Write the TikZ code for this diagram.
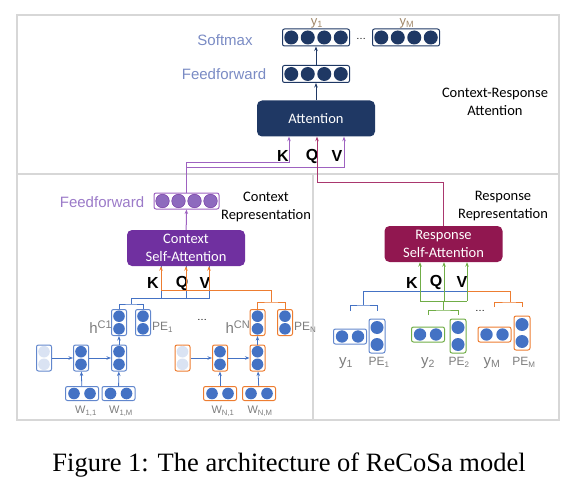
\documentclass[tikz,border=0pt]{standalone}
\usepackage{fontspec}
\setmainfont{Liberation Sans}
\newfontfamily\boxfont{Carlito}
\newfontfamily\capfont{Liberation Serif}
\usepackage{tikz}
\usetikzlibrary{arrows.meta}

\definecolor{navy}{RGB}{31,56,100}
\definecolor{skyb}{RGB}{122,139,196}
\definecolor{ytop}{RGB}{160,135,105}
\definecolor{purpbox}{RGB}{112,48,160}
\definecolor{purpc}{RGB}{142,106,190}
\definecolor{purpl}{RGB}{158,98,192}
\definecolor{purplab}{RGB}{155,122,200}
\definecolor{maroon}{RGB}{145,23,80}
\definecolor{maroonl}{RGB}{170,55,110}
\definecolor{bluec}{RGB}{68,114,196}
\definecolor{blueb}{RGB}{98,135,205}
\definecolor{orng}{RGB}{237,125,49}
\definecolor{grn}{RGB}{112,173,71}
\definecolor{pale}{RGB}{218,227,243}
\definecolor{labgray}{RGB}{125,125,125}
\definecolor{framec}{RGB}{215,215,215}

\begin{document}
\begin{tikzpicture}[x=1pt,y=-1pt,>={Stealth[length=4.5pt,width=3.5pt]}]
            \tikzstyle{vecbox}=[draw,rounded corners=2pt,inner sep=0pt,line width=1pt]
            \tikzstyle{topvec}=[vecbox,draw=navy,minimum width=67pt,minimum height=17pt]
            \tikzstyle{cellv}=[vecbox,minimum width=15pt,minimum height=26pt]
            \tikzstyle{cellw}=[vecbox,minimum width=33pt,minimum height=14pt]
            \tikzstyle{celly}=[vecbox,minimum width=33pt,minimum height=15pt]
            \tikzstyle{cellpe}=[vecbox,minimum width=16pt,minimum height=34pt]
            \tikzstyle{attbox}=[rounded corners=5pt,minimum width=118pt,minimum height=36pt,inner sep=0pt,
                                text=white,align=center,font=\boxfont\fontsize{14.5}{18}\selectfont]
            \tikzstyle{note}=[inner sep=0pt,align=center,font=\boxfont\fontsize{14.5}{18}\selectfont]
            \tikzstyle{kqv}=[inner sep=0pt,font=\bfseries\fontsize{16}{16}\selectfont]
            \tikzstyle{lab}=[inner sep=0pt,text=labgray,font=\fontsize{12}{12}\selectfont]
            \tikzstyle{nline}=[draw=navy,line width=0.8pt]
            \tikzstyle{pline}=[draw=purpl,line width=1pt]
            \tikzstyle{mline}=[draw=maroonl,line width=1pt]
            \tikzstyle{bline}=[draw=bluec,line width=0.9pt]
            \tikzstyle{oline}=[draw=orng,line width=0.9pt]
            \tikzstyle{gline}=[draw=grn,line width=0.9pt]
            \tikzstyle{aline}=[draw=bluec,line width=0.8pt]

            \useasboundingbox (0,0) rectangle (575,481);

            % frame
            \draw[framec,line width=1.2pt] (17,15) rectangle (559,420);
            \draw[framec,line width=1.2pt] (17,174) -- (559,174);
            \draw[framec,line width=1.2pt] (313,174) -- (313,420);

            % context-response attention
            \node[topvec] (T-sm1) at (316,37.5) {};
            \node[topvec] (T-sm2) at (406,37.5) {};
            \node[topvec] (T-ff) at (316,74) {};
            \foreach \cx/\cy in {316/37.5,406/37.5,316/74}
              \foreach \dx in {-24.75,-8.25,8.25,24.75}
                \fill[navy] ({\cx+\dx},\cy) circle (7pt);
            \node[inner sep=0pt,text=ytop,font=\fontsize{13}{13}\selectfont] (T-y1) at (317,23) {y\textsubscript{1}};
            \node[inner sep=0pt,text=ytop,font=\fontsize{13}{13}\selectfont] (T-yM) at (407,23) {y\textsubscript{M}};
            \node[inner sep=0pt] (T-dots) at (361,39) {\ldots};
            \node[inner sep=0pt,text=skyb,font=\fontsize{15}{15}\selectfont] (T-softmax) at (225,40) {Softmax};
            \node[inner sep=0pt,text=skyb,font=\fontsize{15}{15}\selectfont] (T-feed) at (224,74) {Feedforward};
            \node[attbox,fill=navy] (T-att) at (316,118.5) {Attention};
            \node[note] (T-cra) at (495,102) {Context-Response\\Attention};
            \node[kqv] (T-K) at (283,156) {K};
            \node[kqv] (T-Q) at (312,156) {Q};
            \node[kqv] (T-V) at (337,156) {V};
            \draw[nline,->] (T-att) -- (T-ff);
            \draw[nline,->] (T-ff) -- (T-sm1);

            % context side
            \node[vecbox,draw=purpl,minimum width=65pt,minimum height=16pt] (C-ff) at (186.5,201) {};
            \foreach \dx in {-24,-8,8,24}
              \filldraw[fill=purpc,draw=purpbox,line width=0.4pt] ({186.5+\dx},201) circle (6.8pt);
            \node[inner sep=0pt,text=purplab,font=\fontsize{15}{15}\selectfont] (C-feed) at (102,202) {Feedforward};
            \node[note] (C-rep) at (266,207) {Context\\Representation};
            \node[attbox,fill=purpbox] (C-sa) at (186,248) {Context\\Self-Attention};
            \node[kqv] (C-K) at (153,283) {K};
            \node[kqv] (C-Q) at (182,283) {Q};
            \node[kqv] (C-V) at (205,283) {V};
            \draw[pline,->] (C-sa) -- (C-ff);

            \node[cellv,draw=blueb] (C-p1) at (44,358) {};
            \node[cellv,draw=blueb] (C-a1) at (81,358) {};
            \node[cellv,draw=blueb] (C-a2) at (119,358) {};
            \node[cellv,draw=blueb] (C-h1) at (119,322.5) {};
            \node[cellv,draw=blueb] (C-pe1) at (143,322.5) {};
            \node[cellw,draw=blueb] (C-w1) at (82,393.5) {};
            \node[cellw,draw=blueb] (C-w2) at (118.5,393.5) {};
            \node[cellv,draw=orng] (C-p2) at (182.5,358) {};
            \node[cellv,draw=orng] (C-b1) at (220,358) {};
            \node[cellv,draw=orng] (C-b2) at (257.5,358) {};
            \node[cellv,draw=orng] (C-hN) at (257.5,322.5) {};
            \node[cellv,draw=orng] (C-peN) at (285,322.5) {};
            \node[cellw,draw=orng] (C-wN1) at (220,393.5) {};
            \node[cellw,draw=orng] (C-wN2) at (259,393.5) {};
            \foreach \cx in {44,182.5}
              \foreach \dy in {-6.3,6.3}
                \fill[pale] (\cx,{358+\dy}) circle (5.8pt);
            \foreach \cx/\cy in {81/358,119/358,119/322.5,143/322.5,220/358,257.5/358,257.5/322.5,285/322.5}
              \foreach \dy in {-6.3,6.3}
                \fill[bluec] (\cx,{\cy+\dy}) circle (5.8pt);
            \foreach \cx in {82,118.5,220,259}
              \foreach \dx in {-8,8}
                \fill[bluec] ({\cx+\dx},393.5) circle (5.8pt);

            \node[lab,anchor=east] (C-hl1) at (112,327) {\fontsize{15}{15}\selectfont h\raisebox{5pt}{\fontsize{11}{11}\selectfont C1}};
            \node[lab,anchor=west] (C-pel1) at (152,327) {PE\textsubscript{1}};
            \node[lab,anchor=east] (C-hlN) at (250,327) {\fontsize{15}{15}\selectfont h\raisebox{5pt}{\fontsize{11}{11}\selectfont CN}};
            \node[lab,anchor=west] (C-pelN) at (294,327) {PE\textsubscript{N}};
            \node[lab,font=\fontsize{11}{11}\selectfont] (C-wl1) at (86,411) {W\textsubscript{1,1}};
            \node[lab,font=\fontsize{11}{11}\selectfont] (C-wl2) at (121,411) {W\textsubscript{1,M}};
            \node[lab,font=\fontsize{11}{11}\selectfont] (C-wlN1) at (223,411) {W\textsubscript{N,1}};
            \node[lab,font=\fontsize{11}{11}\selectfont] (C-wlN2) at (260,411) {W\textsubscript{N,M}};
            \node[inner sep=0pt] (C-dots) at (202,320) {\ldots};

            \draw[aline,->] (C-p1) -- (C-a1);
            \draw[aline,->] (C-a1) -- (C-a2);
            \draw[aline,->] (C-a2) -- (C-h1);
            \draw[aline,->] (C-w1) -- (C-a1);
            \draw[aline,->] (C-w2) -- (C-a2);
            \draw[aline,->] (C-p2) -- (C-b1);
            \draw[aline,->] (C-b1) -- (C-b2);
            \draw[aline,->] (C-b2) -- (C-hN);
            \draw[aline,->] (C-wN1) -- (C-b1);
            \draw[aline,->] (C-wN2) -- (C-b2);

            \coordinate (C-k) at ([xshift=-25pt]C-sa.south);
            \coordinate (C-q) at (C-sa.south);
            \coordinate (C-v) at ([xshift=23pt]C-sa.south);
            \coordinate (C-bb) at (131,304);
            \coordinate (C-bj) at (131,298);
            \coordinate (C-ob) at (271,302);
            \coordinate (C-oj) at (271,290);
            \draw[bline] (C-h1.north |- 0,309) |- (C-bb) -| (C-pe1.north |- 0,309);
            \draw[bline] (C-bb) -- (C-bj) -| (C-v);
            \draw[bline] (C-k |- C-bj) -- (C-k);
            \draw[bline] (C-q |- C-bj) -- (C-q);
            \draw[oline] (C-hN.north |- 0,309) |- (C-ob) -| (C-peN.north |- 0,309);
            \draw[oline,->] (C-ob) -- (C-oj) -| (C-k);
            \draw[oline,->] (C-q |- C-oj) -- (C-q);
            \draw[oline,->] (C-v |- C-oj) -- (C-v);

            % response side
            \node[attbox,fill=maroon] (R-sa) at (443.5,244) {Response\\Self-Attention};
            \node[note] (R-rep) at (503,206) {Response\\Representation};
            \node[kqv] (R-K) at (412,283) {K};
            \node[kqv] (R-Q) at (436,282) {Q};
            \node[kqv] (R-V) at (462,282) {V};

            \node[celly,draw=blueb] (R-y1) at (350,336.5) {};
            \node[cellpe,draw=blueb] (R-pe1) at (377,336) {};
            \node[celly,draw=grn] (R-y2) at (428,334.5) {};
            \node[cellpe,draw=grn] (R-pe2) at (458,336) {};
            \node[celly,draw=orng] (R-yM) at (494.5,334.5) {};
            \node[cellpe,draw=orng] (R-peM) at (522,333) {};
            \foreach \cx/\cy in {350/336.5,428/334.5,494.5/334.5}
              \foreach \dx in {-8,8}
                \fill[bluec] ({\cx+\dx},\cy) circle (6.2pt);
            \foreach \cx/\cy in {377/336,458/336,522/333}
              \foreach \dy in {-8.5,8.5}
                \fill[bluec] (\cx,{\cy+\dy}) circle (6.5pt);
            \node[lab,font=\fontsize{15}{15}\selectfont] (R-yl1) at (346,363) {y\textsubscript{1}};
            \node[lab] (R-pel1) at (379,362) {PE\textsubscript{1}};
            \node[lab,font=\fontsize{15}{15}\selectfont] (R-yl2) at (428,363) {y\textsubscript{2}};
            \node[lab] (R-pel2) at (459,362) {PE\textsubscript{2}};
            \node[lab,font=\fontsize{15}{15}\selectfont] (R-ylM) at (492,363) {y\textsubscript{M}};
            \node[lab] (R-pelM) at (524,362) {PE\textsubscript{M}};
            \node[inner sep=0pt] (R-dots) at (480,311) {\ldots};

            \coordinate (R-k) at ([xshift=-23.5pt]R-sa.south);
            \coordinate (R-q) at ([xshift=0.5pt]R-sa.south);
            \coordinate (R-v) at ([xshift=23.5pt]R-sa.south);
            \coordinate (R-bb) at (363,305);
            \coordinate (R-bj) at (363,291);
            \coordinate (R-gb) at (443,310);
            \coordinate (R-gj) at (443,301);
            \coordinate (R-ob) at (510,302);
            \coordinate (R-oj) at (510,291);
            \draw[bline] (R-y1.north |- 0,311) |- (R-bb) -| (R-pe1.north |- 0,311);
            \draw[bline] (R-bb) -- (R-bj) -- (R-v |- R-bj);
            \draw[oline] (R-yM.north |- 0,307) |- (R-ob) -| (R-peM.north |- 0,307);
            \draw[oline] (R-ob) -- (R-oj) -- (R-v |- R-oj);
            \draw[gline] (R-y2.north |- 0,315) |- (R-gb) -| (R-pe2.north |- 0,315);
            \draw[gline] (R-gb) -- (R-gj);
            \draw[gline] (R-k |- R-gj) -- (R-v |- R-gj);
            \foreach \p in {k,q,v}
              \draw[gline,->] (R-\p |- R-gj) -- (R-\p);

            % into the attention
            \coordinate (T-k) at ([xshift=-27pt]T-att.south);
            \coordinate (T-q) at ([xshift=1pt]T-att.south);
            \coordinate (T-v) at ([xshift=28pt]T-att.south);
            \coordinate (P-k) at (C-ff.north |- 0,163);
            \coordinate (P-v) at (C-ff.north |- 0,168);
            \coordinate (M-q) at (T-q |- 0,183);
            \draw[pline,->] (C-ff.north) -- (P-k) -| (T-k);
            \draw[pline,->] (C-ff.north) -- (P-v) -| (T-v);
            \draw[mline,->] (R-sa.north) |- (M-q) -- (T-q);

            \node[inner sep=0pt,font=\capfont\fontsize{26.5}{26.5}\selectfont] (caption) at (289,465) {Figure 1: The architecture of ReCoSa model};
        \end{tikzpicture}
\end{document}
